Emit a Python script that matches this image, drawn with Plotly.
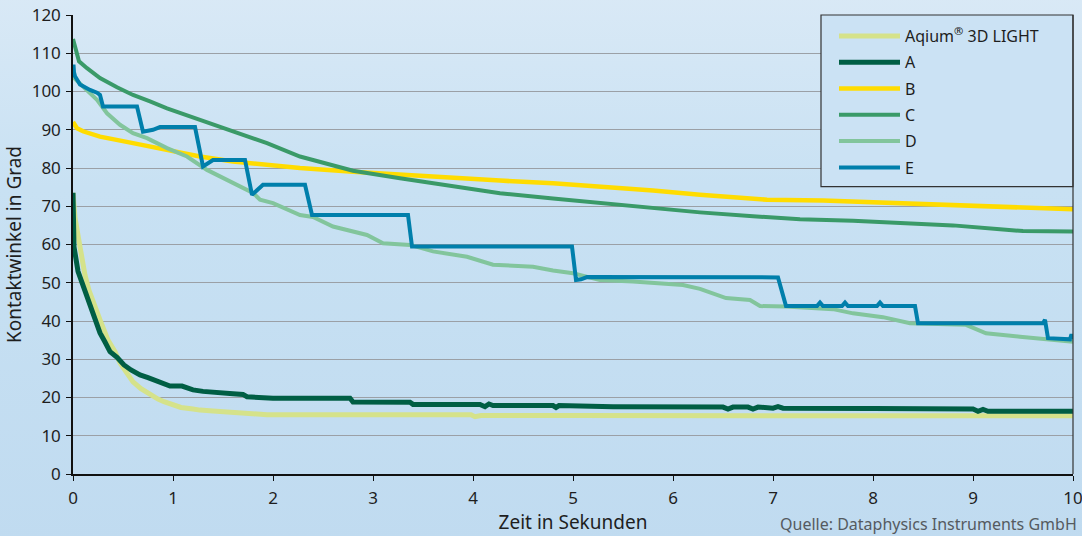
import base64
import plotly.graph_objects as go

# ---------------- data ----------------
t_aqium = [0, 0.02, 0.07, 0.12, 0.16, 0.2, 0.27, 0.35, 0.42, 0.47, 0.53, 0.6, 0.68, 0.77, 0.85,
           0.91, 1.0, 1.08, 1.2, 1.27, 1.4, 1.6, 1.75, 1.94, 2.1, 3.0, 3.98, 4.02, 4.08, 5.0, 6.0,
           7.0, 8.0, 9.0, 10.0]
v_aqium = [73.5, 67, 59.4, 52, 48, 45, 40.3, 35, 32, 29, 26.5, 24.1, 22.3, 20.7, 19.6,
           18.9, 18.1, 17.4, 17.0, 16.7, 16.5, 16.1, 16.0, 15.5, 15.5, 15.5, 15.5, 15.0, 15.3, 15.3, 15.2,
           15.2, 15.2, 15.2, 15.2]

t_a = [0, 0.01, 0.05, 0.12, 0.17, 0.22, 0.27, 0.32, 0.37, 0.44, 0.51, 0.58, 0.67, 0.75, 0.84,
       0.92, 0.97, 1.09, 1.2, 1.3, 1.4, 1.6, 1.7, 1.74, 2.0, 2.3, 2.77, 2.8, 3.37, 3.4, 4.07,
       4.12, 4.16, 4.2, 4.8, 4.83, 4.86, 5.4, 6.0, 6.5, 6.55, 6.6, 6.75, 6.8, 6.85, 7.0, 7.05,
       7.1, 8.0, 9.0, 9.05, 9.1, 9.15, 10.0]
v_a = [73.5, 59.4, 53, 48, 43.5, 40, 36.9, 34.5, 32, 30.5, 28.5, 27.2, 25.9, 25.2, 24.3,
       23.6, 23.0, 23.0, 22.0, 21.6, 21.3, 21.0, 20.8, 20.2, 19.8, 19.8, 19.8, 18.8, 18.75, 18.2, 18.2,
       17.6, 18.3, 17.9, 17.9, 17.4, 17.9, 17.6, 17.6, 17.5, 17.0, 17.5, 17.5, 17.0, 17.5, 17.2, 17.6,
       17.2, 17.1, 17.0, 16.4, 16.9, 16.4, 16.4]

t_b = [0, 0.04, 0.1, 0.27, 0.6, 0.94, 1.27, 1.6, 1.94, 2.27, 2.8, 3.27, 3.8, 4.27, 4.8, 5.27,
       5.8, 6.27, 6.94, 7.5, 8.0, 8.5, 9.0, 9.5, 10.0]
v_b = [92, 90.4, 89.6, 88.2, 86.5, 84.6, 83.0, 81.7, 80.8, 80.0, 79.0, 78.2, 77.4, 76.7, 76.0, 75.2,
       74.1, 73.0, 71.7, 71.5, 71.0, 70.7, 70.2, 69.6, 69.2]

t_c = [0, 0.06, 0.14, 0.27, 0.44, 0.6, 0.77, 0.94, 1.27, 1.6, 1.94, 2.27, 2.8, 3.27, 3.8, 4.27,
       4.8, 5.27, 5.8, 6.27, 6.8, 7.27, 7.8, 8.27, 8.8, 9.27, 9.5, 10.0]
v_c = [113.7, 107.9, 106.1, 103.5, 101.1, 99.1, 97.4, 95.6, 92.6, 89.5, 86.5, 83.0, 79.3, 77.3, 75.2, 73.4,
       72.0, 70.8, 69.6, 68.4, 67.4, 66.6, 66.2, 65.6, 65.0, 64.0, 63.5, 63.4]

t_d = [0, 0.1, 0.24, 0.34, 0.47, 0.6, 0.74, 0.94, 1.14, 1.34, 1.54, 1.74, 1.8, 1.87, 2.0, 2.27,
       2.4, 2.6, 2.94, 3.1, 3.37, 3.6, 3.94, 4.2, 4.6, 4.8, 5.0, 5.27, 5.6, 6.1, 6.27, 6.53, 6.77,
       6.87, 7.13, 7.6, 7.8, 8.1, 8.37, 8.93, 9.13, 9.47, 10.0]
v_d = [103.8, 101.3, 97.8, 94.3, 91.3, 89.1, 87.8, 85.2, 83.0, 79.5, 76.9, 74.3, 73.5, 71.7, 70.8, 67.7,
       67.2, 64.7, 62.5, 60.3, 59.9, 58.2, 56.8, 54.7, 54.2, 53.2, 52.5, 50.7, 50.3, 49.4, 48.4, 46.0, 45.5,
       43.9, 43.8, 43.1, 42.0, 41.0, 39.4, 39.0, 36.8, 35.9, 34.6]

t_e = [0, 0.005, 0.01, 0.02, 0.07, 0.17, 0.24, 0.27, 0.3, 0.64, 0.7, 0.8, 0.87, 1.22, 1.3, 1.4,
       1.72, 1.79, 1.9, 2.32, 2.39, 3.35, 3.39, 4.99, 5.03, 5.08, 5.14, 7.05, 7.13, 7.44, 7.47,
       7.5, 7.69, 7.72, 7.75, 8.04, 8.07, 8.1, 8.42, 8.45, 9.7, 9.72, 9.75, 9.97, 9.985, 10.0]
v_e = [105, 107, 105, 104, 101.8, 100.4, 99.7, 99.1, 96.1, 96.1, 89.5, 90.0, 90.7, 90.7, 80.4, 82.1,
       82.1, 73.0, 75.6, 75.6, 67.7, 67.7, 59.5, 59.5, 50.7, 50.9, 51.5, 51.4, 43.9, 43.9, 44.8,
       43.9, 43.9, 44.8, 43.9, 43.9, 44.8, 43.9, 43.9, 39.4, 39.4, 40.3, 35.5, 35.2, 36.5, 35.2]

names = ["Aqium<sup>®</sup> 3D LIGHT", "A", "B", "C", "D", "E"]
colors = ["#d5e28a", "#005e44", "#ffdc00", "#3a9a68", "#82c59c", "#007fab"]
widths = [5, 5, 4.5, 4, 4, 4]
series = [(t_aqium, v_aqium), (t_a, v_a), (t_b, v_b), (t_c, v_c), (t_d, v_d), (t_e, v_e)]

x_ticks = list(range(0, 11))
y_ticks = list(range(0, 121, 10))

FONT = "Noto Sans"
TXT = "#1e1e1e"

fig = go.Figure()
for i, ((tx, vy), nm, col, w) in enumerate(zip(series, names, colors, widths)):
    fig.add_trace(go.Scatter(x=tx, y=vy, mode="lines", name=nm, legendgroup=str(i),
                             line=dict(color=col, width=w)))

# gradient background as inline svg
svg = ('<svg xmlns="http://www.w3.org/2000/svg" width="100" height="100" preserveAspectRatio="none">'
       '<defs><linearGradient id="g" x1="0" y1="0" x2="0" y2="1">'
       '<stop offset="0" stop-color="#d9e9f6"/><stop offset="0.35" stop-color="#c8e1f3"/>'
       '<stop offset="1" stop-color="#c0dbf0"/></linearGradient></defs>'
       '<rect width="100" height="100" fill="url(#g)"/></svg>')
src = "data:image/svg+xml;base64," + base64.b64encode(svg.encode()).decode()

L, R, T, B = 73, 9, 15, 62
W, H = 1082, 536
pw, ph = W - L - R, H - T - B

fig.update_layout(
    width=W, height=H,
    margin=dict(l=L, r=R, t=T, b=B, autoexpand=False),
    paper_bgcolor="#c6dff2",
    plot_bgcolor="rgba(0,0,0,0)",
    font=dict(family=FONT, size=16, color=TXT),
    showlegend=True,
    legend=dict(x=(834 - L) / pw, xanchor="left", y=1 - 4 / ph, yanchor="top",
                bgcolor="rgba(0,0,0,0)", borderwidth=0, tracegroupgap=2.5,
                itemwidth=61,
                font=dict(family=FONT, size=16, color=TXT), traceorder="grouped"),
    images=[dict(source=src, xref="paper", yref="paper", x=-L / pw - 0.01, y=1 + T / ph + 0.01,
                 sizex=W / pw + 0.03, sizey=H / ph + 0.03, sizing="stretch", layer="below",
                 xanchor="left", yanchor="top")],
    shapes=[
        dict(type="rect", xref="paper", yref="paper", x0=(821 - L) / pw, x1=1.0,
             y0=(474 - 186.7) / ph, y1=1.0, fillcolor="#cbe2f4", layer="above",
             line=dict(color="#333333", width=1.2)),
        dict(type="line", xref="paper", yref="paper", x0=1, x1=1, y0=0, y1=1,
             line=dict(color="#333333", width=1.2), layer="above"),
    ],
    annotations=[
        dict(text="Quelle: Dataphysics Instruments GmbH", xref="paper", yref="paper",
             x=(1079 - L) / pw, y=-(524 - 474) / ph, xanchor="right", yanchor="middle",
             showarrow=False, font=dict(family=FONT, size=16, color="#555a60")),
    ],
)

fig.update_xaxes(range=[0, 10], tickvals=x_ticks, ticktext=[str(v) for v in x_ticks],
                 showgrid=False, zeroline=False, showline=True, linecolor="#111111", linewidth=1.5,
                 ticks="outside", ticklen=5, tickcolor="#111111", tickwidth=1.2,
                 ticklabelstandoff=3, ticklabeloverflow="allow", automargin=False,
                 title=dict(text="Zeit in Sekunden", standoff=3, font=dict(size=19)),
                 tickfont=dict(size=17))
fig.update_yaxes(range=[0, 120], tickvals=y_ticks, ticktext=[str(v) for v in y_ticks],
                 showgrid=True, gridcolor="#9ba0a6", gridwidth=1, zeroline=False,
                 showline=True, linecolor="#111111", linewidth=1.5,
                 ticks="outside", ticklen=5, tickcolor="#111111", tickwidth=1.2,
                 ticklabelstandoff=2, ticklabeloverflow="allow", automargin=False,
                 title=dict(text="Kontaktwinkel in Grad", standoff=5, font=dict(size=19)),
                 tickfont=dict(size=17))

fig.write_html("out.html", config={"displayModeBar": False},
               post_script="document.body.style.margin='0';")
